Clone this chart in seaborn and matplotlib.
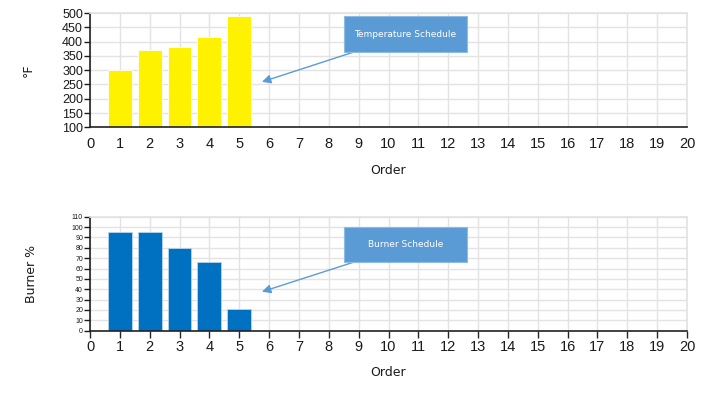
import matplotlib
matplotlib.use("Agg")
import matplotlib.pyplot as plt
import matplotlib.ticker as mticker
from matplotlib.patches import Rectangle
import pandas as pd
import seaborn as sns

# ==========================================
# DATA
# ==========================================
order = [1, 2, 3, 4, 5]
temperature = [300, 372, 380, 415, 490]
burner = [95, 95, 80, 66, 21]

x_ticks = list(range(0, 21))
temp_ticks = list(range(100, 501, 50))
burner_ticks = list(range(0, 111, 10))

temp_df = pd.DataFrame({"Order": order, "Temp": temperature})
burner_df = pd.DataFrame({"Order": order, "Burner": burner})

# ==========================================
# SETUP
# ==========================================
sns.set_theme(style="white")
plt.rcParams["font.family"] = ["Liberation Sans", "DejaVu Sans"]

fig = plt.figure(figsize=(7.16, 3.95), dpi=100)
ax_top = fig.add_axes([0.1257, 0.6777, 0.8338, 0.2893])
ax_bot = fig.add_axes([0.1257, 0.1628, 0.8338, 0.2886])

grid_color = "#e3e3e3"
box_color = "#5b9bd5"


def style_axis(ax, yticks, ylabel, ysize, all_xticks, ylabelpad):
    ax.set_xlim(0, 20)
    ax.set_ylim(yticks[0], yticks[-1])
    ax.set_yticks(yticks)
    ax.set_xticks(x_ticks)
    ax.set_xticklabels([str(t) for t in x_ticks], fontsize=10.5, color="#1a1a1a")
    ax.tick_params(axis="y", labelsize=ysize, colors="#1a1a1a", length=4,
                   width=1, direction="out", left=True, pad=1)
    if all_xticks:
        ax.tick_params(axis="x", length=5, width=1, direction="out",
                       bottom=True, pad=2)
        xlabelpad = 8
    else:
        # top chart only has tick marks at 0, 10, 20
        ax.tick_params(axis="x", length=0, bottom=True, pad=7)
        ax.xaxis.set_minor_locator(mticker.FixedLocator([0, 10, 20]))
        ax.tick_params(axis="x", which="minor", length=5, width=1, bottom=True)
        xlabelpad = 9
    ax.grid(True, color=grid_color, linewidth=1)
    ax.set_axisbelow(True)
    for side in ["top", "right"]:
        ax.spines[side].set_color(grid_color)
    ax.spines["left"].set_color("#222222")
    ax.spines["bottom"].set_color("#222222")
    ax.spines["left"].set_linewidth(1.2)
    ax.spines["bottom"].set_linewidth(1.2)
    ax.set_xlabel("Order", fontsize=9, color="#1a1a1a", labelpad=xlabelpad,
                  family=["DejaVu Sans"])
    ax.set_ylabel(ylabel, fontsize=9, color="#1a1a1a", labelpad=ylabelpad,
                  family=["DejaVu Sans"])


def callout(ax, text, x0, x1, y0, y1, tip):
    ax.add_patch(Rectangle((x0, y0), x1 - x0, y1 - y0, facecolor=box_color,
                           edgecolor="#8dbbe3", linewidth=0.8, zorder=5))
    ax.text((x0 + x1) / 2, (y0 + y1) / 2, text, fontsize=6.5, color="white",
            ha="center", va="center", zorder=6, family=["DejaVu Sans"])
    ax.annotate("", xy=tip, xytext=(x0 + 0.3, y0),
                arrowprops=dict(arrowstyle="-|>", color=box_color, lw=1,
                                mutation_scale=13, shrinkA=0, shrinkB=0),
                zorder=4)


# ==========================================
# TOP: TEMPERATURE
# ==========================================
sns.barplot(data=temp_df, x="Order", y="Temp", native_scale=True, width=0.8,
            color="#fff200", saturation=1, edgecolor="white", linewidth=0.6,
            ax=ax_top)
style_axis(ax_top, temp_ticks, "°F", 9, False, 20)
callout(ax_top, "Temperature Schedule", 8.52, 12.62, 363, 488, (5.76, 259))

# ==========================================
# BOTTOM: BURNER
# ==========================================
sns.barplot(data=burner_df, x="Order", y="Burner", native_scale=True, width=0.8,
            color="#0070c0", saturation=1, edgecolor="#b8d4ee", linewidth=0.6,
            ax=ax_bot)
style_axis(ax_bot, burner_ticks, "Burner %", 5, True, 24)
callout(ax_bot, "Burner Schedule", 8.52, 12.62, 66, 100.4, (5.76, 37.6))

fig.savefig("out.png", dpi=100)
